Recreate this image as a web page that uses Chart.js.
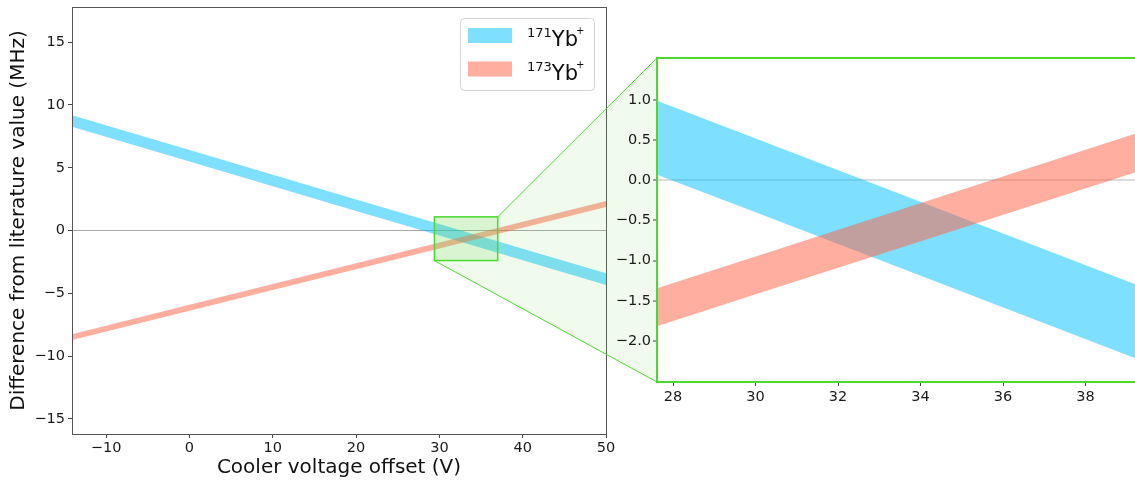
<!DOCTYPE html>
<html>
<head>
<meta charset="utf-8">
<script src="https://cdn.jsdelivr.net/npm/chart.js@4.4.1/dist/chart.umd.min.js"></script>
<style>
  html, body { margin: 0; padding: 0; background: #fff; overflow: hidden; }
  #wrap { position: relative; width: 1135px; height: 481px; overflow: hidden; }
  #wrap canvas { position: absolute; left: 0; top: 0; }
</style>
</head>
<body>
<div id="wrap">
  <canvas id="mainChart" width="1135" height="481"></canvas>
  <canvas id="zoomChart" width="1145" height="481"></canvas>
</div>
<script>
// cooler voltage offsets (V) where the band edges were read
const voltages = [-15, 0, 10, 20, 30, 40, 50];
// 171Yb+ band, upper / lower edge (MHz)
const yb171Upper = [9.36, 6.41, 4.45, 2.48, 0.52, -1.45, -3.41];
const yb171Lower = [8.44, 5.49, 3.53, 1.56, -0.40, -2.37, -4.33];
// 173Yb+ band
const yb173Upper = [-8.40, -5.91, -4.26, -2.60, -0.95, 0.71, 2.36];
const yb173Lower = [-8.87, -6.39, -4.73, -3.08, -1.42, 0.23, 1.88];

const isotopes = ['171', '173'];
const mainXTicks = [-10, 0, 10, 20, 30, 40, 50];
const mainYTicks = [-15, -10, -5, 0, 5, 10, 15];
const zoomXTicks = [28, 30, 32, 34, 36, 38];
const zoomYTicks = [-2.0, -1.5, -1.0, -0.5, 0.0, 0.5, 1.0];

// area marked on the main plot (data units)
const marked = { x0: 29.4, x1: 37.0, y0: -2.39, y1: 1.09 };

const blue = 'rgba(0, 191, 255, 0.5)';
const red = 'rgba(255, 99, 71, 0.52)';
const green = '#4bd92f';
const FONT = '"DejaVu Sans", sans-serif';
const minus = '\u2212';

function bandSets() {
    const pts = arr => voltages.map((v, i) => ({ x: v, y: arr[i] }));
    const band = (upper, lower, color) => [
        { data: pts(upper), fill: '+1', backgroundColor: color, borderColor: 'transparent', borderWidth: 0, pointRadius: 0 },
        { data: pts(lower), fill: false, borderColor: 'transparent', borderWidth: 0, pointRadius: 0 }
    ];
    // first datasets are drawn on top
    return [...band(yb173Upper, yb173Lower, red), ...band(yb171Upper, yb171Lower, blue)];
}

function axis(min, max, ticks, fmt, opts) {
    return Object.assign({
        type: 'linear', min: min, max: max,
        afterBuildTicks: s => { s.ticks = ticks.map(v => ({ value: v })); },
        border: { display: false },
        grid: { color: 'transparent', drawTicks: true, tickLength: 4, tickColor: '#444', tickWidth: 1 },
        ticks: { font: { family: FONT, size: 14.5 }, color: '#1a1a1a', autoSkip: false, maxRotation: 0, callback: fmt }
    }, opts);
}

const intFmt = v => v < 0 ? minus + Math.abs(v) : String(v);
const decFmt = v => (v < 0 ? minus : '') + Math.abs(v).toFixed(1);

function drawLegend(ctx) {
    ctx.save();
    ctx.beginPath();
    ctx.roundRect(460.5, 18.5, 134, 72, 4);
    ctx.fillStyle = 'rgba(255,255,255,0.8)';
    ctx.fill();
    ctx.strokeStyle = '#d4d4d4';
    ctx.lineWidth = 1;
    ctx.stroke();
    const colors = [blue, red];
    isotopes.forEach((mass, i) => {
        const top = 28 + i * 33.5;
        ctx.fillStyle = colors[i];
        ctx.fillRect(468, top, 44, 15);
        const base = top + 18;
        ctx.fillStyle = '#111';
        ctx.textAlign = 'left';
        ctx.textBaseline = 'alphabetic';
        ctx.font = '13px ' + FONT;
        ctx.fillText(mass, 527, base - 9);
        let x = 527 + ctx.measureText(mass).width;
        ctx.font = '21px ' + FONT;
        ctx.fillText('Yb', x, base);
        x += ctx.measureText('Yb').width;
        ctx.font = '10px ' + FONT;
        ctx.fillText('+', x - 2, base - 12);
    });
    ctx.restore();
}

const mainFrame = {
    id: 'mainFrame',
    afterDraw(chart) {
        const { ctx, chartArea: a } = chart;
        ctx.save();
        ctx.strokeStyle = '#555';
        ctx.lineWidth = 1;
        ctx.strokeRect(Math.round(a.left) + 0.5, Math.round(a.top) + 0.5,
            Math.round(a.right - a.left), Math.round(a.bottom - a.top));
        ctx.restore();
        drawLegend(ctx);
    }
};

const mainChart = new Chart(document.getElementById('mainChart'), {
    type: 'line',
    data: { datasets: bandSets() },
    options: {
        responsive: false, animation: false, devicePixelRatio: 1,
        layout: { padding: { left: 0, top: 7, right: 529, bottom: 0 } },
        plugins: { legend: { display: false }, tooltip: { enabled: false } },
        scales: {
            x: axis(-14.1, 50, mainXTicks, intFmt, {
                afterFit: s => { s.height = 47; },
                title: { display: true, text: 'Cooler voltage offset (V)', color: '#111',
                    font: { family: FONT, size: 20 }, padding: { top: 0, bottom: 1 } }
            }),
            y: axis(-16.2, 17.8, mainYTicks, intFmt, {
                afterFit: s => { s.width = 72; s.paddingTop = 0; s.paddingBottom = 0; },
                grid: { color: c => (c.tick && c.tick.value === 0) ? '#a8a8a8' : 'transparent',
                    lineWidth: 1, drawTicks: true, tickLength: 4, tickColor: '#444', tickWidth: 1 },
                title: { display: true, text: 'Difference from literature value (MHz)', color: '#111',
                    font: { family: FONT, size: 20 }, padding: { top: 7, bottom: 0 } }
            })
        }
    },
    plugins: [mainFrame]
});
mainChart.options.scales.y.ticks.padding = 3;
mainChart.options.scales.x.ticks.padding = 2;
mainChart.update();

// connector between marked area and the zoomed axes
const zoomLink = {
    id: 'zoomLink',
    beforeDraw(chart) {
        const { ctx, chartArea: a } = chart;
        const mx = mainChart.scales.x, my = mainChart.scales.y;
        const rl = mx.getPixelForValue(marked.x0), rr = mx.getPixelForValue(marked.x1);
        const rt = my.getPixelForValue(marked.y1), rb = my.getPixelForValue(marked.y0);
        ctx.save();
        ctx.beginPath();
        ctx.moveTo(rr, rt);
        ctx.lineTo(a.left, a.top);
        ctx.lineTo(a.left, a.bottom);
        ctx.lineTo(rl, rb);
        ctx.lineTo(rr, rb);
        ctx.closePath();
        ctx.fillStyle = 'rgba(110, 215, 80, 0.1)';
        ctx.fill();
        ctx.fillStyle = 'rgba(110, 215, 80, 0.27)';
        ctx.fillRect(rl, rt, rr - rl, rb - rt);
        ctx.strokeStyle = green;
        ctx.lineWidth = 1.5;
        ctx.strokeRect(rl, rt, rr - rl, rb - rt);
        ctx.lineWidth = 1;
        ctx.beginPath();
        ctx.moveTo(rr, rt); ctx.lineTo(a.left, a.top);
        ctx.moveTo(rl, rb); ctx.lineTo(a.left, a.bottom);
        ctx.stroke();
        ctx.fillStyle = '#fff';
        ctx.fillRect(a.left, a.top, a.right - a.left, a.bottom - a.top);
        ctx.restore();
    },
    afterDraw(chart) {
        const { ctx, chartArea: a } = chart;
        ctx.save();
        ctx.strokeStyle = green;
        ctx.lineWidth = 2;
        ctx.strokeRect(a.left, a.top, a.right - a.left, a.bottom - a.top);
        ctx.restore();
    }
};

const zoomChart = new Chart(document.getElementById('zoomChart'), {
    type: 'line',
    data: { datasets: bandSets() },
    options: {
        responsive: false, animation: false, devicePixelRatio: 1,
        layout: { padding: { left: 600, top: 58, right: 0, bottom: 69 } },
        plugins: { legend: { display: false }, tooltip: { enabled: false } },
        scales: {
            x: axis(27.61, 39.44, zoomXTicks, v => String(v), {
                afterFit: s => { s.height = 30; s.paddingLeft = 0; s.paddingRight = 0; }
            }),
            y: axis(-2.51, 1.52, zoomYTicks, decFmt, {
                afterFit: s => { s.width = 57; s.paddingTop = 0; s.paddingBottom = 0; },
                grid: { color: c => (c.tick && c.tick.value === 0) ? '#dcdcdc' : 'transparent',
                    lineWidth: 2, drawTicks: true, tickLength: 4, tickColor: '#444', tickWidth: 1 }
            })
        }
    },
    plugins: [zoomLink]
});
zoomChart.options.scales.y.ticks.padding = 2;
zoomChart.options.scales.x.ticks.padding = 3;
zoomChart.update();
</script>
</body>
</html>
